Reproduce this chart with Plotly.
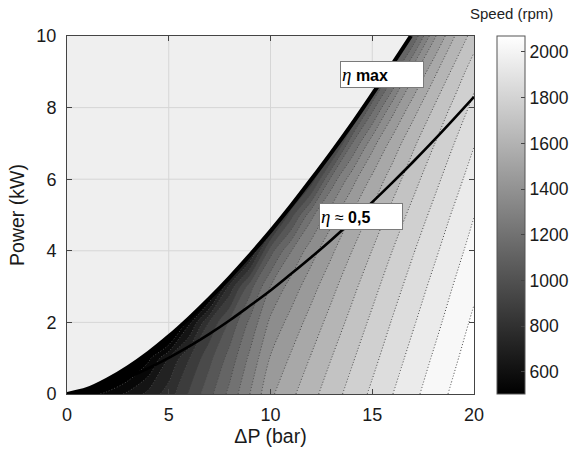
import numpy as np
import plotly.graph_objects as go

# ---- data ----
DP = [0, 1, 2, 3, 4, 5, 6, 7, 8, 9, 10, 11, 12, 13, 14, 15, 16, 17, 18, 19, 20]  # bar
POWER = [0, 1, 2, 3, 4, 5, 6, 7, 8, 9, 10]  # kW
SPEED = [
    [0, 540, 600, 670, 750, 840, 960, 1080, 1200, 1330, 1464, 1536, 1604, 1669, 1732, 1793, 1852, 1909, 1964, 2018, 2071],
    [0, 200, 300, 420, 556, 729, 874, 1007, 1135, 1272, 1409, 1487, 1559, 1628, 1694, 1757, 1819, 1878, 1935, 1990, 2044],
    [0, 6, 24, 71, 195, 322, 631, 885, 1045, 1198, 1345, 1430, 1509, 1582, 1652, 1720, 1784, 1845, 1903, 1962, 2017],
    [0, 5, 16, 51, 135, 206, 313, 479, 825, 1075, 1254, 1359, 1449, 1531, 1607, 1678, 1747, 1810, 1872, 1931, 1988],
    [0, 4, 14, 44, 105, 160, 230, 335, 468, 692, 1072, 1249, 1370, 1465, 1552, 1630, 1704, 1772, 1836, 1898, 1958],
    [0, 4, 12, 36, 94, 134, 192, 259, 360, 492, 673, 995, 1232, 1374, 1481, 1571, 1654, 1728, 1797, 1863, 1926],
    [0, 3, 11, 30, 83, 113, 162, 227, 300, 399, 520, 676, 893, 1207, 1374, 1495, 1591, 1675, 1752, 1822, 1889],
    [0, 3, 9, 28, 75, 104, 144, 195, 258, 339, 439, 538, 674, 848, 1176, 1375, 1508, 1613, 1697, 1776, 1849],
    [0, 2, 8, 26, 60, 96, 130, 173, 228, 293, 373, 461, 561, 684, 849, 1149, 1372, 1518, 1628, 1721, 1800],
    [0, 2, 8, 23, 53, 88, 120, 157, 204, 273, 337, 407, 489, 584, 702, 852, 1132, 1376, 1530, 1647, 1746],
    [0, 2, 7, 21, 49, 84, 113, 146, 190, 240, 315, 376, 433, 517, 615, 726, 870, 1107, 1381, 1546, 1665],
]
SPEED_MIN, SPEED_MAX, SPEED_STEP = 503, 2070, 75

ETA_MAX_X = [0, 1, 2, 3, 4, 5, 6, 7, 8, 9, 10, 11, 12, 13, 14, 15, 16, 16.9]
ETA_MAX_Y = [0, 0.14, 0.41, 0.75, 1.15, 1.61, 2.12, 2.67, 3.26, 3.89, 4.55, 5.25, 5.99, 6.75, 7.54, 8.37, 9.22, 10.0]

ETA_05_X = [0, 1, 2, 3, 4, 5, 6, 7, 8, 9, 10, 11, 12, 13, 14, 15, 16, 17, 18, 19, 20]
ETA_05_Y = [0, 0.087, 0.251, 0.464, 0.719, 1.01, 1.33, 1.68, 2.06, 2.47, 2.89, 3.35, 3.82, 4.31,
            4.83, 5.36, 5.91, 6.48, 7.07, 7.68, 8.30]

X_TICKS = [0, 5, 10, 15, 20]
Y_TICKS = [0, 2, 4, 6, 8, 10]
CB_TICKS = [600, 800, 1000, 1200, 1400, 1600, 1800, 2000]

LABEL_MAX = dict(x=15.47, y=8.92)
LABEL_05 = dict(x=14.43, y=4.96)

# ---- styling ----
FONT = "Liberation Sans, Arial, sans-serif"
BG = "#efefef"
GRID = "#d6d6d6"
GRAY = [[0, "rgb(0,0,0)"], [1, "rgb(255,255,255)"]]
TXT = "#1a1a1a"

fig = go.Figure()

fig.add_trace(go.Contour(
    x=DP, y=POWER, z=SPEED,
    zmin=SPEED_MIN, zmax=SPEED_MAX, zauto=False,
    colorscale=GRAY, showscale=False,
    autocontour=False,
    contours=dict(start=SPEED_MIN + SPEED_STEP, end=SPEED_MAX, size=SPEED_STEP,
                  coloring="fill", showlines=True),
    line=dict(color="#4a4a4a", width=1, dash="1px,2px", smoothing=1),
    hoverinfo="skip",
))

# light region above the eta-max curve
x_max, y_max = X_TICKS[-1], Y_TICKS[-1]
fig.add_trace(go.Scatter(
    x=ETA_MAX_X + [X_TICKS[0]], y=ETA_MAX_Y + [y_max],
    mode="lines", fill="toself", fillcolor=BG, line=dict(width=0, color=BG),
    hoverinfo="skip", showlegend=False,
))

# grid lines, visible only in the light region
gx, gy = [], []
for t in X_TICKS[1:-1]:
    y0 = float(np.interp(t, ETA_MAX_X, ETA_MAX_Y))
    gx += [t, t, None]
    gy += [y0, y_max, None]
for t in Y_TICKS[1:-1]:
    x1 = float(np.interp(t, ETA_MAX_Y, ETA_MAX_X))
    gx += [X_TICKS[0], x1, None]
    gy += [t, t, None]
fig.add_trace(go.Scatter(x=gx, y=gy, mode="lines", line=dict(color=GRID, width=1),
                         hoverinfo="skip", showlegend=False))

fig.add_trace(go.Scatter(x=ETA_05_X, y=ETA_05_Y, mode="lines",
                         line=dict(color="black", width=2.6, shape="spline"),
                         hoverinfo="skip", showlegend=False))
fig.add_trace(go.Scatter(x=ETA_MAX_X, y=ETA_MAX_Y, mode="lines",
                         line=dict(color="black", width=4, shape="spline"),
                         hoverinfo="skip", showlegend=False))

# continuous colour bar
fig.add_trace(go.Scatter(
    x=[np.nan, np.nan], y=[np.nan, np.nan], mode="markers",
    marker=dict(color=[SPEED_MIN, SPEED_MAX], cmin=SPEED_MIN, cmax=SPEED_MAX,
                colorscale=GRAY, showscale=True,
                colorbar=dict(x=1.0565, xanchor="left", xref="paper", xpad=0, ypad=0,
                              y=0.5, yanchor="middle", len=1, lenmode="fraction",
                              thickness=28, thicknessmode="pixels",
                              outlinewidth=1, outlinecolor="#555",
                              tickvals=CB_TICKS, ticks="inside", ticklen=4, tickcolor="#444",
                              tickfont=dict(family=FONT, size=17.5, color=TXT))),
    hoverinfo="skip", showlegend=False,
))

ETA = '<span style="font-family:Liberation Serif;font-size:19px"><i>η</i></span>'
common = dict(xref="x", yref="y", showarrow=False, bgcolor="white", bordercolor="#7a7a7a",
              borderwidth=1, width=80, height=23, align="left", xanchor="center", yanchor="middle",
              font=dict(family=FONT, size=16, color="black"))
fig.add_annotation(text=ETA + " <b>max</b>", **LABEL_MAX, **common)
fig.add_annotation(text=ETA + " ≈ <b>0,5</b>", **LABEL_05, **common)
fig.add_annotation(text="Speed (rpm)", xref="paper", yref="paper", x=1.091, y=1.064,
                   xanchor="center", yanchor="middle", showarrow=False,
                   font=dict(family=FONT, size=15, color="#222"))

axis_common = dict(showgrid=False, zeroline=False, showline=True, linecolor="#444", linewidth=1,
                   mirror="ticks", ticks="inside", ticklen=5, tickcolor="#444",
                   tickfont=dict(family=FONT, size=18, color=TXT))
fig.update_xaxes(range=[X_TICKS[0], x_max], tickvals=X_TICKS, ticklabelstandoff=4,
                 title=dict(text="ΔP (bar)", font=dict(family=FONT, size=19.5, color=TXT), standoff=4),
                 **axis_common)
fig.update_yaxes(range=[Y_TICKS[0], y_max], tickvals=Y_TICKS, ticklabelstandoff=6,
                 title=dict(text="Power (kW)", font=dict(family=FONT, size=19.5, color=TXT), standoff=6),
                 **axis_common)

fig.update_layout(width=587, height=456, margin=dict(l=67, r=113, t=36, b=62),
                  plot_bgcolor=BG, paper_bgcolor="white", showlegend=False)

fig.write_html("out.html")
